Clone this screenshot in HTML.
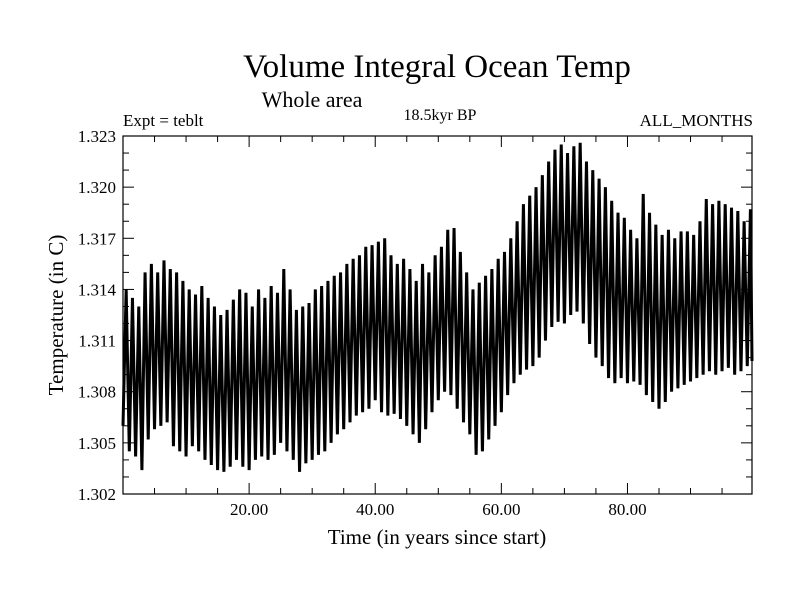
<!DOCTYPE html>
<html><head><meta charset="utf-8"><style>
body{margin:0;background:#fff}
svg{display:block;font-family:"Liberation Serif",serif}
</style></head><body>
<svg id="chart" width="800" height="600" viewBox="0 0 800 600">
<text x="437" y="77" font-size="33" text-anchor="middle">Volume Integral Ocean Temp</text>
<text x="312" y="107" font-size="22" text-anchor="middle">Whole area</text>
<text x="123" y="126" font-size="17">Expt = teblt</text>
<text x="440" y="120" font-size="16" text-anchor="middle">18.5kyr BP</text>
<text x="753" y="126" font-size="17" text-anchor="end">ALL_MONTHS</text>
<text x="437" y="544" font-size="21" text-anchor="middle">Time (in years since start)</text>
<text transform="translate(63,315) rotate(-90)" font-size="21" text-anchor="middle">Temperature (in C)</text>
<g id="axes"></g>
<g id="series"></g>
</svg>
<script>
const yTickValues=[1.302,1.305,1.308,1.311,1.314,1.317,1.320,1.323];
const yTickLabels=["1.302","1.305","1.308","1.311","1.314","1.317","1.320","1.323"];
const xTickValues=[20,40,60,80];
const xTickLabels=["20.00","40.00","60.00","80.00"];
const years=[];for(let i=0;i<100;i++)years.push(i);
const yearPeaks=[1.3140,1.3135,1.3130,1.3150,1.3155,1.3150,1.3157,1.3152,1.3150,1.3145,
1.3140,1.3137,1.3142,1.3135,1.3130,1.3125,1.3128,1.3134,1.3140,1.3138,
1.3130,1.3140,1.3135,1.3142,1.3138,1.3152,1.3140,1.3128,1.3130,1.3132,
1.3140,1.3142,1.3145,1.3148,1.3150,1.3155,1.3158,1.3160,1.3165,1.3166,
1.3168,1.3170,1.3160,1.3155,1.3158,1.3152,1.3145,1.3155,1.3150,1.3160,
1.3165,1.3175,1.3176,1.3162,1.3150,1.3140,1.3144,1.3148,1.3152,1.3158,
1.3162,1.3170,1.3180,1.3190,1.3195,1.3200,1.3207,1.3215,1.3222,1.3225,
1.3220,1.3224,1.3226,1.3215,1.3210,1.3205,1.3200,1.3192,1.3185,1.3182,
1.3175,1.3170,1.3196,1.3185,1.3178,1.3172,1.3175,1.3170,1.3174,1.3174,
1.3172,1.3180,1.3193,1.3190,1.3192,1.3190,1.3188,1.3186,1.3180,1.3187];
const yearTroughs=[1.3060,1.3045,1.3042,1.3034,1.3052,1.3058,1.3060,1.3062,1.3048,1.3045,
1.3042,1.3048,1.3045,1.3040,1.3037,1.3034,1.3033,1.3036,1.3040,1.3036,
1.3034,1.3040,1.3042,1.3040,1.3043,1.3050,1.3045,1.3040,1.3033,1.3038,
1.3040,1.3043,1.3045,1.3050,1.3055,1.3058,1.3062,1.3066,1.3068,1.3070,
1.3075,1.3068,1.3066,1.3067,1.3064,1.3060,1.3055,1.3050,1.3058,1.3068,
1.3075,1.3080,1.3078,1.3070,1.3062,1.3055,1.3043,1.3045,1.3052,1.3060,
1.3068,1.3078,1.3085,1.3090,1.3093,1.3095,1.3100,1.3110,1.3118,1.3121,
1.3120,1.3125,1.3127,1.3120,1.3108,1.3100,1.3095,1.3088,1.3085,1.3088,
1.3085,1.3086,1.3084,1.3078,1.3074,1.3070,1.3074,1.3080,1.3082,1.3084,
1.3086,1.3088,1.3090,1.3092,1.3090,1.3092,1.3094,1.3090,1.3092,1.3095];

const L=123,R=752,T=136,B=494,X0=0,X1=99.75,Y0=1.302,Y1=1.323;
const sx=v=>L+(v-X0)/(X1-X0)*(R-L);
const sy=v=>B-(v-Y0)/(Y1-Y0)*(B-T);
const NS="http://www.w3.org/2000/svg";
const axes=document.getElementById('axes');
function mk(tag,attrs,parent){const e=document.createElementNS(NS,tag);for(const k in attrs)e.setAttribute(k,attrs[k]);parent.appendChild(e);return e;}

const frame=mk('rect',{x:L,y:T,width:R-L,height:B-T,fill:'none',stroke:'#000','stroke-width':1.2},axes);



for(let v=5;v<X1;v+=5){
  const major=v%20===0, len=major?11:6, x=sx(v);
  const t1=mk('line',{x1:x,y1:B,x2:x,y2:B-len,stroke:'#000'},axes);
  
  
  const t2=mk('line',{x1:x,y1:T,x2:x,y2:T+len,stroke:'#000'},axes);
  
  
}
xTickValues.forEach((v,i)=>{
  const t=mk('text',{x:sx(v),y:B+21,'font-size':17,'text-anchor':'middle'},axes);
  t.textContent=xTickLabels[i];
  
  
});
for(let k=0;k<=21;k++){
  const v=Y0+k*0.001, major=k%3===0, len=major?11:6, y=sy(v);
  const t1=mk('line',{x1:L,y1:y,x2:L+len,y2:y,stroke:'#000'},axes);
  
  
  const t2=mk('line',{x1:R,y1:y,x2:R-len,y2:y,stroke:'#000'},axes);
  
  
}
yTickValues.forEach((v,i)=>{
  const t=mk('text',{x:L-7,y:sy(v)+6,'font-size':17,'text-anchor':'end'},axes);
  t.textContent=yTickLabels[i];
  
  
});

let pts=[];
years.forEach((yr,i)=>{
  pts.push(sx(yr)+','+sy(yearTroughs[i]));
  pts.push(sx(yr+0.5)+','+sy(yearPeaks[i]));
});
pts.push(sx(X1)+','+sy(1.3098));
const line=mk('polyline',{points:pts.join(' '),fill:'none',stroke:'#000','stroke-width':3,'stroke-linejoin':'miter'},document.getElementById('series'));


</script>
</body></html>
